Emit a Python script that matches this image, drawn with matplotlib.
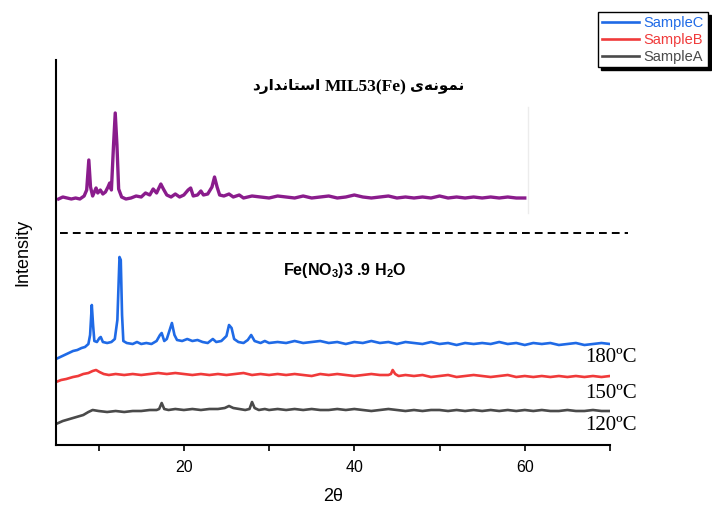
import matplotlib
matplotlib.use("Agg")
import matplotlib.pyplot as plt
from matplotlib.ticker import MultipleLocator

plt.rcParams["font.family"] = ["Liberation Sans", "DejaVu Sans"]
plt.rcParams["mathtext.fontset"] = "custom"
plt.rcParams["mathtext.rm"] = "Liberation Sans"
plt.rcParams["mathtext.bf"] = "Liberation Sans:bold"

# 2theta / intensity (arbitrary intensity units)
sample_c_x = [5.0, 5.5, 6.0, 6.5, 7.0, 7.5, 8.0, 8.4, 8.8, 9.0, 9.2, 9.35, 9.5, 9.8, 10.1, 10.25, 10.5,
              11.0, 11.5, 11.9, 12.2, 12.45, 12.6, 12.75, 12.9, 13.3, 14.0, 14.5, 15.0, 15.6, 16.2, 16.8,
              17.2, 17.4, 17.7, 18.0, 18.3, 18.6, 18.9, 19.2, 19.8, 20.4, 21.0, 21.6, 22.2, 22.8, 23.4,
              23.8, 24.4, 25.0, 25.3, 25.6, 25.9, 26.4, 27.0, 27.5, 27.9, 28.3, 29.0, 29.5, 30.0, 31.0,
              32.0, 33.0, 34.0, 35.0, 36.0, 37.0, 38.0, 39.0, 40.0, 41.0, 42.0, 43.0, 44.0, 45.0, 46.0,
              47.0, 48.0, 49.0, 50.0, 51.0, 52.0, 53.0, 54.0, 55.0, 56.0, 57.0, 58.0, 59.0, 60.0, 61.0,
              62.0, 63.0, 64.0, 65.0, 66.0, 67.0, 68.0, 69.0, 70.0]
sample_c_y = [86, 88, 90, 92, 94, 95, 97, 98, 101, 110, 140, 120, 104, 103, 107, 108, 103,
              102, 103, 106, 125, 188, 185, 130, 104, 102, 101, 103, 101, 102, 101, 104,
              110, 112, 104, 106, 114, 122, 110, 105, 104, 106, 104, 105, 103, 102, 106,
              103, 104, 109, 120, 117, 106, 103, 102, 105, 110, 104, 102, 104, 102, 103,
              102, 104, 102, 103, 104, 102, 103, 101, 103, 102, 104, 102, 103, 101, 103,
              102, 101, 103, 101, 102, 100, 102, 101, 102, 101, 103, 101, 102, 100, 102,
              101, 102, 100, 101, 102, 100, 101, 102, 101]

sample_b_x = [5.0, 5.6, 6.2, 7.0, 7.6, 8.2, 8.8, 9.3, 9.7, 10.1, 10.6, 11.2, 12.0, 13.0, 14.0, 15.0,
              16.0, 17.0, 18.0, 19.0, 20.0, 21.0, 22.0, 23.0, 24.0, 25.0, 26.0, 27.0, 28.0, 29.0,
              30.0, 31.0, 32.0, 33.0, 34.0, 35.0, 36.0, 37.0, 38.0, 39.0, 40.0, 41.0, 42.0, 43.0,
              44.0, 44.3, 44.5, 44.8, 45.2, 46.0, 47.0, 48.0, 49.0, 50.0, 51.0, 52.0, 53.0, 54.0,
              55.0, 56.0, 57.0, 58.0, 59.0, 60.0, 61.0, 62.0, 63.0, 64.0, 65.0, 66.0, 67.0, 68.0,
              69.0, 70.0]
sample_b_y = [63, 65, 66, 68, 69, 71, 72, 74, 75, 73, 71, 70, 71, 70, 71, 70,
              71, 72, 71, 72, 71, 70, 71, 70, 71, 70, 71, 72, 70, 71,
              70, 71, 70, 71, 70, 69, 71, 70, 71, 70, 69, 70, 71, 70,
              70, 71, 75, 71, 69, 70, 69, 70, 68, 69, 70, 68, 69, 70,
              69, 68, 69, 70, 68, 69, 68, 69, 68, 69, 68, 69, 68, 69,
              68, 69]

sample_a_x = [5.0, 5.8, 6.6, 7.4, 8.2, 8.8, 9.3, 10.0, 11.0, 12.0, 13.0, 14.0, 15.0, 16.0, 16.8,
              17.1, 17.4, 17.7, 18.2, 19.0, 20.0, 21.0, 22.0, 23.0, 24.0, 24.8, 25.3, 25.8, 26.5,
              27.2, 27.7, 28.0, 28.3, 28.8, 29.5, 30.0, 31.0, 32.0, 33.0, 34.0, 35.0, 36.0, 37.0,
              38.0, 39.0, 40.0, 41.0, 42.0, 43.0, 44.0, 45.0, 46.0, 47.0, 48.0, 49.0, 50.0, 51.0,
              52.0, 53.0, 54.0, 55.0, 56.0, 57.0, 58.0, 59.0, 60.0, 61.0, 62.0, 63.0, 64.0, 65.0,
              66.0, 67.0, 68.0, 69.0, 70.0]
sample_a_y = [21, 24, 26, 28, 30, 33, 35, 34, 33, 34, 33, 34, 34, 35, 35,
              36, 42, 36, 35, 36, 35, 36, 35, 36, 36, 37, 39, 37, 36,
              35, 36, 43, 37, 35, 36, 35, 36, 35, 36, 35, 36, 35, 35,
              36, 35, 36, 35, 34, 35, 36, 35, 34, 35, 34, 35, 35, 34,
              35, 34, 35, 34, 35, 34, 35, 34, 35, 34, 35, 34, 34, 35,
              34, 34, 35, 34, 34]

standard_x = [5.3, 5.8, 6.3, 6.8, 7.3, 7.8, 8.3, 8.6, 8.85, 9.05, 9.3, 9.7, 9.9, 10.2, 10.5, 10.8,
              11.1, 11.3, 11.5, 11.75, 11.95, 12.15, 12.35, 12.7, 13.2, 13.8, 14.4, 15.0, 15.5,
              16.0, 16.4, 16.8, 17.3, 17.6, 18.0, 18.5, 19.0, 19.5, 20.0, 20.5, 20.8, 21.1, 21.6,
              22.0, 22.3, 22.8, 23.3, 23.6, 23.9, 24.2, 24.7, 25.3, 25.8, 26.5, 27.0, 28.0, 29.0,
              30.0, 31.0, 32.0, 33.0, 34.0, 35.0, 36.0, 37.0, 38.0, 39.0, 40.0, 41.0, 42.0, 43.0,
              44.0, 45.0, 46.0, 47.0, 48.0, 49.0, 50.0, 51.0, 52.0, 53.0, 54.0, 55.0, 56.0, 57.0,
              58.0, 59.0, 60.0]
standard_y = [246, 248, 247, 246, 247, 246, 249, 255, 285, 258, 249, 257, 252, 255, 251, 253,
              258, 262, 255, 300, 332, 300, 256, 248, 246, 247, 249, 248, 252,
              250, 256, 252, 261, 256, 250, 248, 251, 248, 250, 255, 257, 249, 250,
              254, 250, 251, 258, 268, 258, 250, 249, 251, 248, 250, 247, 249, 248,
              247, 249, 248, 247, 249, 247, 248, 249, 247, 248, 250, 248, 247, 248,
              249, 247, 248, 247, 248, 247, 249, 247, 248, 247, 248, 247, 248, 247,
              248, 247, 247]

series_labels = ["SampleC", "SampleB", "SampleA"]
series_colors = ["#1f6ae6", "#f03a3a", "#4a4a4a"]
temp_labels = ["180ºC", "150ºC", "120ºC"]

# Persian title, pre-shaped in visual order (matplotlib has no bidi/shaping)
word_standard = "\uFEA9\uFEAD\uFE8D\uFEAA\uFEE7\uFE8E\uFE98\uFEB3\uFE8D"   # استاندارد
word_sample = "\uFEEF\uFEEA\uFEE7\uFEEE\uFEE4\uFEE7"                      # نمونه‌ی
title_latin = "MIL53(Fe)"


fig = plt.figure(figsize=(7.12, 5.08), dpi=100)
ax = fig.add_axes([56 / 712, 1 - 445 / 508, 554 / 712, 385 / 508])

ax.plot(standard_x, standard_y, color="#8a1c8c", lw=2.4, solid_joinstyle="round")
ax.plot([60.35, 60.35], [232, 338], color="#ececec", lw=1)
ax.plot([5.5, 72.1], [212, 212], color="black", lw=1.4, dashes=(4, 2.6), clip_on=False)

lines = []
for xs, ys, lab, col in zip([sample_c_x, sample_b_x, sample_a_x], [sample_c_y, sample_b_y, sample_a_y],
                            series_labels, series_colors):
    ln, = ax.plot(xs, ys, color=col, lw=1.9, label=lab, solid_joinstyle="round")
    lines.append(ln)

ax.set_xlim(5, 70)
ax.set_ylim(0, 385)
ax.spines["top"].set_visible(False)
ax.spines["right"].set_visible(False)
ax.spines["left"].set_linewidth(1.5)
ax.spines["bottom"].set_linewidth(1.5)
ax.set_yticks([])
ax.xaxis.set_major_locator(MultipleLocator(20))
ax.xaxis.set_minor_locator(MultipleLocator(10))
ax.tick_params(axis="x", which="both", direction="out", length=4, width=1.2, labelsize=11.5, pad=7)

ax.set_ylabel("Intensity", fontsize=13, labelpad=18)
ax.set_xlabel("2θ", fontsize=13, labelpad=9)

# title pieces, laid out left to right as in the picture
ax.text(36.0, 358, word_standard, ha="right", va="center", fontsize=11, fontweight="bold",
        family="DejaVu Sans")
ax.text(41.3, 358, title_latin, ha="center", va="center", fontsize=12.5, fontweight="bold",
        family="Liberation Serif")
ax.text(46.5, 358, word_sample, ha="left", va="center", fontsize=11, fontweight="bold",
        family="DejaVu Sans")

ax.text(38.9, 175, r"Fe(NO$_{\mathbf{3}}$)3 .9 H$_{\mathbf{2}}$O", ha="center", va="center",
        fontsize=11.5, fontweight="bold")

for lab, yv in zip(temp_labels, [87, 52, 19]):
    ax.text(67.1, yv, lab, ha="left", va="center", fontsize=15, family="Liberation Serif",
            clip_on=False)

leg = fig.legend(handles=lines, loc="upper right", bbox_to_anchor=(0.994, 0.976), fontsize=10.5,
                 frameon=True, fancybox=False, shadow={"color": "black", "alpha": 1.0},
                 labelcolor="linecolor", handlelength=2.6, handletextpad=0.3, labelspacing=0.2,
                 borderpad=0.25, borderaxespad=0)
leg.get_frame().set_edgecolor("black")
leg.get_frame().set_linewidth(1.0)

fig.savefig("out.png", dpi=100)
